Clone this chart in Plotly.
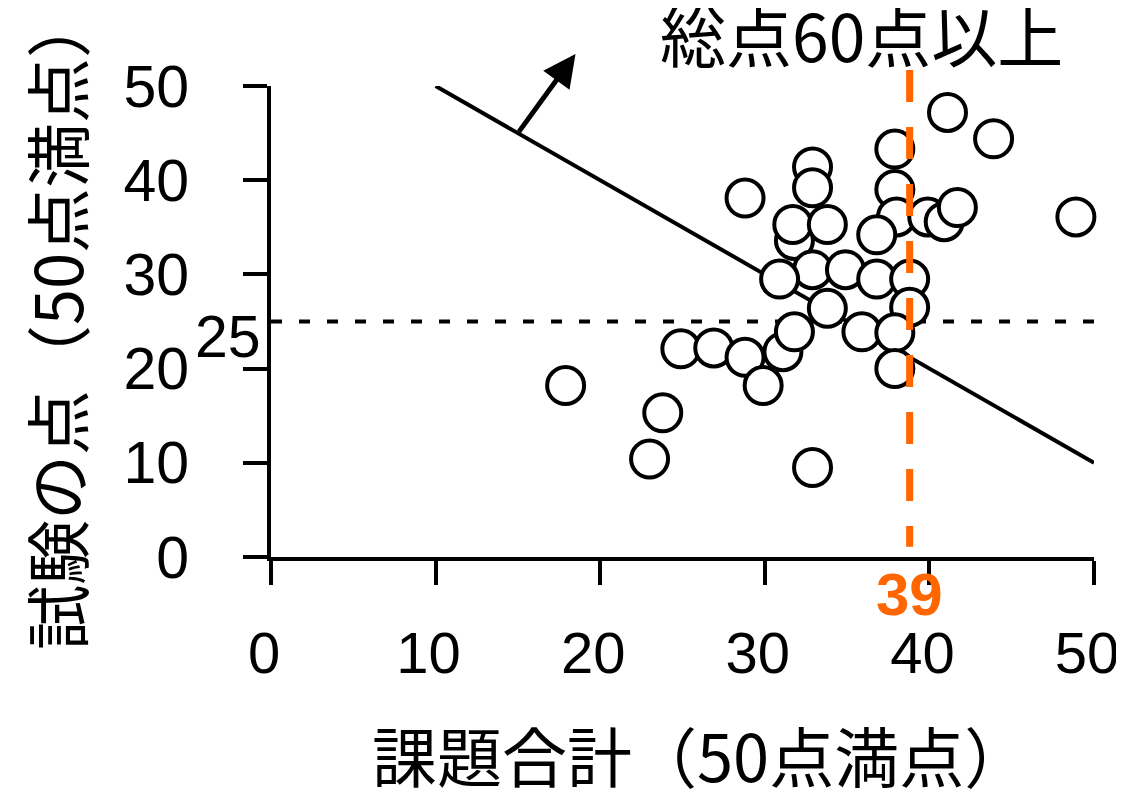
import plotly.graph_objects as go

# ---- data ----
# drawing order matters only for which circle sits on top
assignment_total = [41.1, 43.9, 37.9, 32.9, 32.9, 28.8, 37.9, 38.0, 39.9, 40.9, 41.7,
                    48.9, 36.8, 31.8, 31.7, 33.8, 32.9, 34.9, 30.9, 36.8, 38.8,
                    33.8, 38.8, 31.1, 31.8, 35.9, 37.9, 37.9, 24.9, 26.9, 28.8,
                    29.9, 17.9, 23.8, 23.0, 32.9]
exam_score = [47.2, 44.4, 43.3, 41.4, 39.2, 38.1, 39.0, 36.1, 36.1, 35.6, 37.1,
              36.1, 34.2, 33.6, 35.3, 35.3, 30.5, 30.5, 29.5, 29.5, 29.5,
              26.4, 26.5, 21.8, 23.9, 23.9, 23.8, 20.0, 22.1, 22.2, 21.2,
              18.2, 18.2, 15.3, 10.4, 9.5]

x_tick_vals = [0, 10, 20, 30, 40, 50]
x_tick_text = ["0", "10", "20", "30", "40", "50"]
y_tick_vals = [0, 10, 20, 30, 40, 50]
y_tick_text = ["0", "10", "20", "30", "40", "50"]

# total score 60 line: x + y = 60
total_line_x = [10, 50]
total_line_y = [50, 10]
arrow_tail = [15, 45]
arrow_tip = [18.5, 53.4]
total_label = "総点60点以上"

exam_threshold = 25
exam_threshold_label = "25"
assignment_threshold_pos = 38.8
assignment_threshold_label = "39"
threshold_line_top = 51.7
threshold_line_bottom = 1.1

x_title = "課題合計（50点満点）"
y_title = "試験の点（50点満点）"

X_RANGE = [0, 50]
Y_RANGE = [0, 50]

ORANGE = "#FF6600"
CJK = "Noto Sans CJK JP"
LATIN = "Liberation Sans"

fig = go.Figure()

# total >= 60 boundary line
fig.add_trace(go.Scatter(
    x=total_line_x, y=total_line_y, mode="lines",
    line=dict(color="black", width=4), hoverinfo="skip", showlegend=False))

# students
fig.add_trace(go.Scatter(
    x=assignment_total, y=exam_score, mode="markers",
    marker=dict(size=37, color="white", line=dict(color="black", width=4)),
    cliponaxis=False, showlegend=False))

ydom = lambda v: (v - Y_RANGE[0]) / (Y_RANGE[1] - Y_RANGE[0])

shapes = [
    # exam threshold (dotted)
    dict(type="line", xref="x", yref="y", x0=X_RANGE[0], x1=X_RANGE[1],
         y0=exam_threshold, y1=exam_threshold,
         line=dict(color="black", width=4, dash="11px,17px"), layer="below"),
    # assignment threshold (orange dashed), extends above the axis range
    dict(type="line", xref="x", yref="y domain",
         x0=assignment_threshold_pos, x1=assignment_threshold_pos,
         y0=ydom(threshold_line_top), y1=ydom(threshold_line_bottom),
         line=dict(color=ORANGE, width=7, dash="32px,25px"), layer="above"),
]

annotations = [
    # arrow toward the passing side
    dict(x=arrow_tip[0], y=arrow_tip[1], ax=arrow_tail[0], ay=arrow_tail[1],
         xref="x", yref="y", axref="x", ayref="y", text="", showarrow=True,
         arrowhead=2, arrowsize=1.3, arrowwidth=5, arrowcolor="black",
         standoff=0, startstandoff=0),
    dict(text=total_label, xref="paper", yref="paper", x=0.718, y=1.112,
         xanchor="center", yanchor="middle", showarrow=False,
         font=dict(family=CJK, size=66, color="black")),
    dict(text=exam_threshold_label, xref="x", yref="y", x=X_RANGE[0], y=exam_threshold,
         xanchor="right", yanchor="middle", xshift=-8, yshift=-15, showarrow=False,
         font=dict(family=LATIN, size=59, color="black")),
    dict(text="<b>" + assignment_threshold_label + "</b>", xref="x", yref="y",
         x=assignment_threshold_pos, y=Y_RANGE[0], xanchor="center", yanchor="middle",
         yshift=-37, showarrow=False,
         font=dict(family=LATIN, size=60, color=ORANGE)),
    # x-axis title
    dict(text=x_title, xref="paper", yref="paper", x=0.5, y=-0.418,
         xanchor="center", yanchor="middle", xshift=18, showarrow=False,
         font=dict(family=CJK, size=65, color="black")),
]

# the page body adds an 8px offset; size/margins chosen so the plot area lands
# where the reference has it
fig.update_layout(
    width=1116, height=781,
    margin=dict(l=263, r=30, t=78, b=232, autoexpand=False),
    paper_bgcolor="white", plot_bgcolor="white",
    shapes=shapes, annotations=annotations,
    showlegend=False,
)

fig.update_xaxes(
    range=X_RANGE, tickmode="array", tickvals=x_tick_vals, ticktext=x_tick_text,
    showline=True, linecolor="black", linewidth=4,
    ticks="outside", ticklen=24, tickwidth=4, tickcolor="black",
    showgrid=False, zeroline=False, ticklabelstandoff=18, ticklabelshift=-7,
    ticklabeloverflow="allow",
    tickfont=dict(family=LATIN, size=58, color="black"),
    automargin=False,
)
fig.update_yaxes(
    range=Y_RANGE, tickmode="array", tickvals=y_tick_vals, ticktext=y_tick_text,
    showline=True, linecolor="black", linewidth=4,
    ticks="outside", ticklen=24, tickwidth=4, tickcolor="black",
    showgrid=False, zeroline=False, ticklabelstandoff=42,
    ticklabeloverflow="allow",
    tickfont=dict(family=LATIN, size=59, color="black"),
    title=dict(text=y_title, font=dict(family=CJK, size=65, color="black"), standoff=33),
    automargin=False,
)

fig.write_html("out.html")
